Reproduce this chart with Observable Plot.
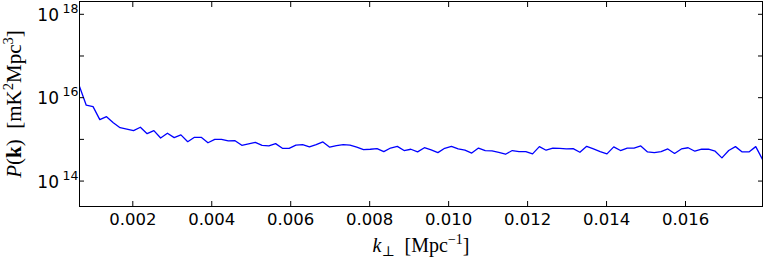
<!DOCTYPE html>
<html><head><meta charset="utf-8">
<script src="https://cdn.jsdelivr.net/npm/d3@7"></script>
<script src="https://cdn.jsdelivr.net/npm/@observablehq/plot@0.6"></script>
<style>body{margin:0;background:#fff} svg{display:block}</style>
</head><body><div id="chart"></div>
<script>
const kPerp = [
  0.000650, 0.000821, 0.000993, 0.001164, 0.001335, 0.001506, 0.001678, 0.001849, 0.002020, 0.002192,
  0.002363, 0.002534, 0.002705, 0.002877, 0.003048, 0.003219, 0.003391, 0.003562, 0.003733, 0.003904,
  0.004076, 0.004247, 0.004418, 0.004590, 0.004761, 0.004932, 0.005103, 0.005275, 0.005446, 0.005617,
  0.005789, 0.005960, 0.006131, 0.006302, 0.006474, 0.006645, 0.006816, 0.006988, 0.007159, 0.007330,
  0.007501, 0.007673, 0.007844, 0.008015, 0.008187, 0.008358, 0.008529, 0.008700, 0.008872, 0.009043,
  0.009214, 0.009386, 0.009557, 0.009728, 0.009900, 0.010071, 0.010242, 0.010413, 0.010585, 0.010756,
  0.010927, 0.011099, 0.011270, 0.011441, 0.011612, 0.011784, 0.011955, 0.012126, 0.012298, 0.012469,
  0.012640, 0.012811, 0.012983, 0.013154, 0.013325, 0.013497, 0.013668, 0.013839, 0.014010, 0.014182,
  0.014353, 0.014524, 0.014696, 0.014867, 0.015038, 0.015209, 0.015381, 0.015552, 0.015723, 0.015895,
  0.016066, 0.016237, 0.016408, 0.016580, 0.016751, 0.016922, 0.017094, 0.017265, 0.017436, 0.017607,
  0.017779, 0.017950
];
const power = [
  1.86e16, 6.6e15, 6.1e15, 2.97e15, 3.5e15, 2.5e15, 1.91e15, 1.77e15, 1.62e15, 1.95e15,
  1.37e15, 1.62e15, 1.08e15, 1.40e15, 1.10e15, 1.28e15, 8.8e14, 1.12e15, 1.12e15, 8.3e14,
  1.0e15, 1.0e15, 9.2e14, 9.3e14, 7.2e14, 7.8e14, 8.5e14, 7.2e14, 6.95e14, 7.9e14,
  6.1e14, 6.1e14, 7.3e14, 7.5e14, 6.65e14, 7.5e14, 8.7e14, 6.5e14, 7.1e14, 7.5e14,
  7.3e14, 6.5e14, 5.7e14, 5.8e14, 6.0e14, 5.1e14, 6.2e14, 6.8e14, 5.4e14, 5.8e14,
  5.0e14, 6.3e14, 5.6e14, 4.8e14, 6.1e14, 6.8e14, 5.9e14, 5.5e14, 4.7e14, 6.2e14,
  5.4e14, 5.3e14, 4.9e14, 4.4e14, 5.4e14, 5.1e14, 5.1e14, 4.5e14, 6.7e14, 5.5e14,
  6.2e14, 6.1e14, 5.9e14, 6.0e14, 4.9e14, 6.8e14, 5.9e14, 5.1e14, 4.5e14, 6.6e14,
  5.4e14, 6.2e14, 6.2e14, 6.95e14, 5.0e14, 4.8e14, 5.1e14, 5.9e14, 4.6e14, 5.9e14,
  6.3e14, 5.2e14, 5.8e14, 5.8e14, 5.2e14, 3.6e14, 5.4e14, 6.7e14, 5.0e14, 5.0e14,
  6.7e14, 3.3e14
];
const xTicks = [0.002, 0.004, 0.006, 0.008, 0.010, 0.012, 0.014, 0.016];
const yTicks = [1e14, 1e15, 1e16, 1e17, 1e18];
const yLabelTicks = [1e14, 1e16, 1e18];
const xDomain = [0.00065, 0.01795];
const yDomain = [Math.pow(10, 13.39), Math.pow(10, 18.307)];

const data = kPerp.map((k, i) => ({k, p: power[i]}));
const font = "'DejaVu Sans', sans-serif";
const serif = "'Liberation Serif', 'DejaVu Serif', serif";
const tickLen = 5;

const chart = Plot.plot({
  width: 764, height: 262,
  marginLeft: 79, marginRight: 2, marginTop: 1, marginBottom: 56,
  style: {fontFamily: font, background: "white", overflow: "visible", color: "black"},
  x: {domain: xDomain, label: null},
  y: {type: "log", domain: yDomain, label: null},
  marks: [
    Plot.line(data, {x: "k", y: "p", stroke: "#0000ff", strokeWidth: 1.3, clip: true}),
    Plot.axisX(xTicks, {anchor: "bottom", tickSize: tickLen, dy: -tickLen, tickFormat: () => "", label: null}),
    Plot.axisX(xTicks, {anchor: "top", tickSize: tickLen, dy: tickLen, tickFormat: () => "", label: null}),
    Plot.axisX(xTicks, {anchor: "bottom", tickSize: 0, tickPadding: 7, tickFormat: d3.format(".3f"), fontSize: 16.5, label: null}),
    Plot.axisY(yTicks, {anchor: "left", tickSize: tickLen, dx: tickLen, tickFormat: () => "", label: null}),
    Plot.axisY(yTicks, {anchor: "right", tickSize: tickLen, dx: -tickLen, tickFormat: () => "", label: null}),
    Plot.text(yLabelTicks, {y: d => d, frameAnchor: "left", text: () => "10", textAnchor: "end", dx: -20.5, dy: 1, fontSize: 17}),
    Plot.text(yLabelTicks, {y: d => d, frameAnchor: "left", text: d => String(Math.round(Math.log10(d))), textAnchor: "end", dx: -1, dy: -5.5, fontSize: 12.5}),
    Plot.frame({stroke: "black", strokeWidth: 1})
  ]
});
document.getElementById("chart").appendChild(chart);

const svg = d3.select(chart);
// x-axis title
const xl = svg.append("text")
  .attr("x", 421).attr("y", 252)
  .attr("text-anchor", "middle")
  .attr("font-family", serif).attr("font-size", 20).attr("fill", "black");
xl.append("tspan").attr("font-style", "italic").text("k");
xl.append("tspan").attr("font-size", 14).attr("dy", 4).text("⊥");
xl.append("tspan").attr("dy", -4).text("\u2002[Mpc");
xl.append("tspan").attr("font-size", 14).attr("dy", -8).text("−1");
xl.append("tspan").attr("dy", 8).text("]");

// y-axis title
const yl = svg.append("text")
  .attr("transform", "translate(21,104) rotate(-90)")
  .attr("text-anchor", "middle")
  .attr("font-family", serif).attr("font-size", 21).attr("fill", "black");
yl.append("tspan").attr("font-style", "italic").text("P");
yl.append("tspan").text("(");
yl.append("tspan").attr("font-weight", "bold").text("k");
yl.append("tspan").text(")\u2002[mK");
yl.append("tspan").attr("font-size", 14.5).attr("dy", -8).text("2");
yl.append("tspan").attr("dy", 8).text("Mpc");
yl.append("tspan").attr("font-size", 14.5).attr("dy", -8).text("3");
yl.append("tspan").attr("dy", 8).text("]");
</script>
</body></html>
